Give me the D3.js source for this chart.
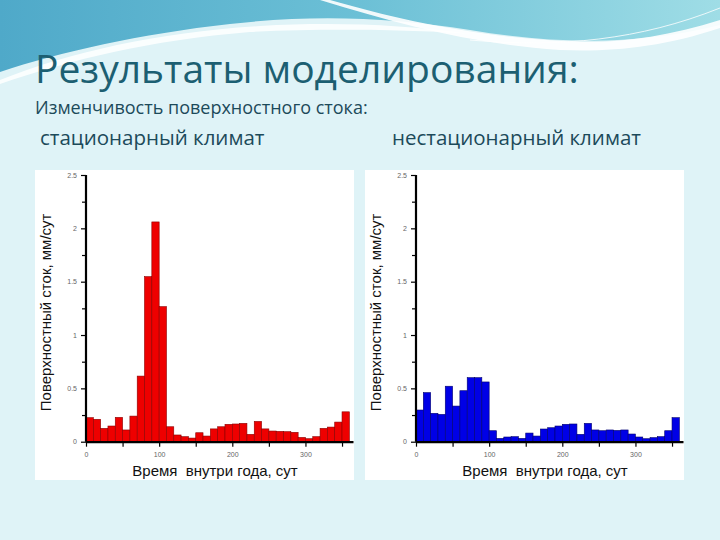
<!DOCTYPE html>
<html>
<head>
<meta charset="utf-8">
<script src="https://d3js.org/d3.v7.min.js"></script>
<style>
  body { margin: 0; background: #dff3f7; }
  svg { display: block; }
</style>
</head>
<body>
<svg id="chart" width="720" height="540"></svg>
<script>
// bin start day (10-day bins)
const binStart = [0, 10, 20, 30, 40, 50, 60, 70, 80, 90, 100, 110, 120, 130, 140, 150, 160, 170,
  180, 190, 200, 210, 220, 230, 240, 250, 260, 270, 280, 290, 300, 310, 320, 330, 340, 350];

// surface runoff, mm/day - stationary climate
const stationary = [0.225, 0.21, 0.125, 0.147, 0.228, 0.11, 0.24, 0.615, 1.547, 2.06, 1.266, 0.14,
  0.063, 0.047, 0.034, 0.084, 0.053, 0.12, 0.14, 0.163, 0.166, 0.172, 0.069, 0.19,
  0.12, 0.1, 0.097, 0.094, 0.088, 0.04, 0.028, 0.047, 0.125, 0.137, 0.184, 0.28];

// surface runoff, mm/day - non-stationary climate
const nonstationary = [0.297, 0.46, 0.266, 0.256, 0.52, 0.334, 0.478, 0.6, 0.6, 0.56, 0.103, 0.031,
  0.044, 0.047, 0.031, 0.081, 0.053, 0.119, 0.131, 0.147, 0.163, 0.166, 0.069, 0.172,
  0.11, 0.103, 0.11, 0.106, 0.11, 0.072, 0.044, 0.028, 0.038, 0.047, 0.103, 0.225];

const yTickMajor = [0, 0.5, 1, 1.5, 2, 2.5];
const yTickMinor = [0.25, 0.75, 1.25, 1.75, 2.25];
const xTickMajor = [0, 100, 200, 300];
const xTickMinor = [50, 150, 250, 350];

const svg = d3.select("#chart");

// background decoration
const defs = svg.append("defs");
const grad = defs.append("linearGradient").attr("id", "topGrad")
  .attr("x1", "0").attr("x2", "1").attr("y1", "0").attr("y2", "0");
grad.append("stop").attr("offset", "0").attr("stop-color", "#4fa9c9");
grad.append("stop").attr("offset", "0.5").attr("stop-color", "#6cc0d6");
grad.append("stop").attr("offset", "1").attr("stop-color", "#9fdde6");

svg.append("rect").attr("width", 720).attr("height", 540).attr("fill", "#dff3f7");
svg.append("path")
  .attr("d", "M0,0 H720 V25 C640,45 560,45 470,30 C390,18 320,14 230,24 C140,34 60,52 0,72 Z")
  .attr("fill", "url(#topGrad)");
svg.append("path")
  .attr("d", "M0,80 C70,52 160,32 260,26 C330,22 400,24 470,34 C420,30 330,28 250,32 C150,40 70,60 0,84 Z")
  .attr("fill", "#ffffff").attr("opacity", 0.85);
svg.append("path")
  .attr("d", "M330,0 C400,20 480,38 580,42 C620,43 670,36 720,20 V28 C660,48 610,52 560,50 C470,44 400,24 320,0 Z")
  .attr("fill", "#ffffff").attr("opacity", 0.9);
svg.append("path")
  .attr("d", "M470,40 C560,48 640,40 720,8")
  .attr("fill", "none").attr("stroke", "#ffffff").attr("stroke-width", 1).attr("opacity", 0.8);

// titles
svg.append("text").attr("x", 35).attr("y", 83)
  .attr("font-family", "Open Sans").attr("font-size", 39).attr("fill", "#1c5f72")
  .text("Результаты моделирования:");
svg.append("text").attr("x", 35).attr("y", 114)
  .attr("font-family", "Open Sans").attr("font-size", 18).attr("fill", "#1c4a5a")
  .text("Изменчивость поверхностного стока:");
svg.append("text").attr("x", 40).attr("y", 145)
  .attr("font-family", "Open Sans").attr("font-size", 20.5).attr("fill", "#1c4a5a")
  .text("стационарный климат");
svg.append("text").attr("x", 392).attr("y", 145)
  .attr("font-family", "Open Sans").attr("font-size", 20.5).attr("fill", "#1c4a5a")
  .text("нестационарный климат");

function drawPanel(left, values, fill, edge) {
  const g = svg.append("g").attr("transform", `translate(${left},170)`);
  g.append("rect").attr("width", 319).attr("height", 310).attr("fill", "#ffffff");

  const x = d3.scaleLinear().domain([0, 365]).range([51, 318]);
  const y = d3.scaleLinear().domain([0, 2.5]).range([271.7, 5]);

  g.selectAll("rect.bar").data(values).join("rect")
    .attr("class", "bar")
    .attr("x", (d, i) => x(binStart[i]))
    .attr("width", (d, i) => x(binStart[i] + 10) - x(binStart[i]))
    .attr("y", d => y(d))
    .attr("height", d => y(0) - y(d))
    .attr("fill", fill)
    .attr("stroke", edge)
    .attr("stroke-width", 0.6);

  // y axis
  const yAxis = g.append("g").attr("transform", `translate(${x(0)},0)`)
    .call(d3.axisLeft(y).tickValues(yTickMajor).tickSize(5).tickPadding(4)
      .tickFormat(d => String(d)));
  g.append("g").attr("transform", `translate(${x(0)},0)`)
    .call(d3.axisLeft(y).tickValues(yTickMinor).tickSize(4).tickFormat(""))
    .call(a => a.select(".domain").remove());

  // x axis
  g.append("g").attr("transform", `translate(0,${y(0)})`)
    .call(d3.axisBottom(x).tickValues(xTickMajor).tickSize(5).tickPadding(5).tickSizeOuter(0));
  g.append("g").attr("transform", `translate(0,${y(0)})`)
    .call(d3.axisBottom(x).tickValues(xTickMinor).tickSize(5).tickFormat(""))
    .call(a => a.select(".domain").remove());

  g.selectAll(".domain").attr("stroke", "#000").attr("stroke-width", 2.2);
  g.selectAll(".tick line").attr("stroke", "#000").attr("stroke-width", 1.2);
  g.selectAll(".tick text").attr("font-family", "Liberation Sans").attr("font-size", 7).attr("fill", "#666");
  yAxis.select(".domain").attr("d", `M0,${y(2.5)}V${y(0)}`);

  g.append("text")
    .attr("transform", `translate(16,${(y(0) + y(2.5)) / 2 + 4}) rotate(-90)`)
    .attr("text-anchor", "middle")
    .attr("font-family", "Liberation Sans").attr("font-size", 15).attr("fill", "#111")
    .text("Поверхностный сток, мм/сут");
  g.append("text")
    .attr("x", 180).attr("y", 306)
    .attr("text-anchor", "middle")
    .style("white-space", "pre")
    .attr("font-family", "Liberation Sans").attr("font-size", 15).attr("fill", "#111")
    .text("Время  внутри года, сут");
}

drawPanel(35, stationary, "#ee0000", "#8a0000");
drawPanel(365, nonstationary, "#0000e6", "#00006e");
</script>
</body>
</html>
